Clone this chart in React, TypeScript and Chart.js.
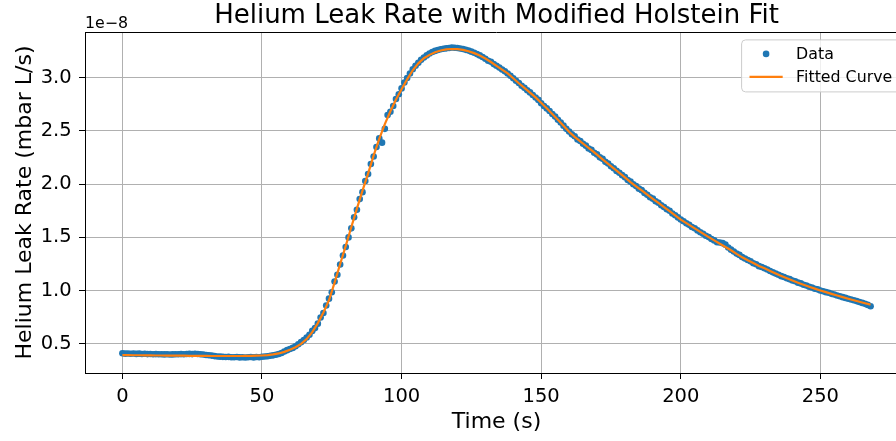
import React, { useEffect, useRef } from 'react';
import { Chart, registerables } from 'chart.js';

Chart.register(...registerables);

// ---- Text ----
const chartTitle = 'Helium Leak Rate with Modified Holstein Fit';
const xAxisLabel = 'Time (s)';
const yAxisLabel = 'Helium Leak Rate (mbar L/s)';
const yOffsetLabel = '1e\u22128';
const legendLabels = ['Data', 'Fitted Curve'];

// ---- Ticks ----
const xTickValues = [0, 50, 100, 150, 200, 250];
const xTickLabels = ['0', '50', '100', '150', '200', '250'];
const yTickValues = [0.5, 1.0, 1.5, 2.0, 2.5, 3.0];
const yTickLabels = ['0.5', '1.0', '1.5', '2.0', '2.5', '3.0'];

// ---- Measured data (leak rate in units of 1e-8 mbar L/s), sampled every 1 s from t = 0 ----
const dataStartTime = 0;
const dataInterval = 1;
const leakRateData = [
  0.412, 0.408, 0.410, 0.407, 0.409, 0.406, 0.408, 0.405, 0.407, 0.404,
  0.405, 0.403, 0.404, 0.402, 0.403, 0.401, 0.402, 0.400, 0.401, 0.402,
  0.403, 0.404, 0.402, 0.405, 0.406, 0.404, 0.407, 0.405, 0.403, 0.400,
  0.396, 0.393, 0.390, 0.385, 0.382, 0.380, 0.378, 0.376, 0.378, 0.375,
  0.374, 0.376, 0.373, 0.375, 0.372, 0.374, 0.376, 0.373, 0.377, 0.375,
  0.379, 0.381, 0.384, 0.388, 0.392, 0.398, 0.405, 0.414, 0.428, 0.441,
  0.452, 0.462, 0.478, 0.496, 0.516, 0.537, 0.560, 0.585, 0.622, 0.648,
  0.690, 0.748, 0.790, 0.860, 0.925, 0.985, 1.085, 1.150, 1.245, 1.330,
  1.410, 1.500, 1.585, 1.690, 1.760, 1.860, 1.925, 2.030, 2.095, 2.190,
  2.260, 2.350, 2.430, 2.390, 2.520, 2.650, 2.680, 2.735, 2.800, 2.845,
  2.900, 2.955, 2.998, 3.040, 3.080, 3.112, 3.140, 3.168, 3.190, 3.210,
  3.228, 3.242, 3.252, 3.261, 3.268, 3.272, 3.276, 3.279, 3.284, 3.281,
  3.280, 3.274, 3.270, 3.262, 3.255, 3.245, 3.235, 3.222, 3.210, 3.195,
  3.178, 3.160, 3.150, 3.128, 3.112, 3.095, 3.078, 3.060, 3.040, 3.018,
  2.995, 2.972, 2.950, 2.925, 2.905, 2.882, 2.862, 2.838, 2.815, 2.792,
  2.760, 2.735, 2.712, 2.688, 2.660, 2.635, 2.605, 2.580, 2.550, 2.520,
  2.495, 2.468, 2.450, 2.420, 2.405, 2.380, 2.362, 2.335, 2.322, 2.295,
  2.280, 2.252, 2.238, 2.210, 2.194, 2.168, 2.150, 2.125, 2.108, 2.085,
  2.066, 2.040, 2.024, 2.000, 1.982, 1.958, 1.944, 1.918, 1.900, 1.878,
  1.864, 1.840, 1.826, 1.802, 1.786, 1.765, 1.750, 1.724, 1.708, 1.688,
  1.668, 1.652, 1.632, 1.618, 1.598, 1.586, 1.566, 1.548, 1.535, 1.515,
  1.503, 1.485, 1.472, 1.455, 1.452, 1.446, 1.432, 1.405, 1.385, 1.368,
  1.348, 1.336, 1.315, 1.302, 1.288, 1.275, 1.258, 1.248, 1.230, 1.222,
  1.210, 1.198, 1.184, 1.172, 1.160, 1.150, 1.136, 1.128, 1.116, 1.108,
  1.095, 1.088, 1.075, 1.068, 1.055, 1.048, 1.036, 1.030, 1.018, 1.012,
  1.002, 0.995, 0.986, 0.980, 0.970, 0.964, 0.954, 0.948, 0.939, 0.932,
  0.924, 0.917, 0.910, 0.902, 0.894, 0.885, 0.876, 0.866, 0.853,
];

// ---- Fitted curve (same units), read every 2 s from t = 0 ----
const fitStartTime = 0;
const fitInterval = 2;
const leakRateFit = [
  0.394, 0.394, 0.393, 0.393, 0.392, 0.392, 0.391, 0.391, 0.390, 0.390,
  0.389, 0.389, 0.388, 0.388, 0.387, 0.387, 0.386, 0.386, 0.386, 0.386,
  0.386, 0.386, 0.387, 0.388, 0.389, 0.391, 0.395, 0.401, 0.410, 0.425,
  0.445, 0.468, 0.500, 0.545, 0.610, 0.695, 0.795, 0.910, 1.075, 1.250,
  1.420, 1.598, 1.770, 1.940, 2.100, 2.270, 2.425, 2.565, 2.685, 2.795,
  2.892, 2.985, 3.070, 3.135, 3.183, 3.215, 3.240, 3.256, 3.266, 3.270,
  3.268, 3.262, 3.249, 3.231, 3.208, 3.180, 3.148, 3.112, 3.077, 3.040,
  2.995, 2.948, 2.904, 2.860, 2.815, 2.765, 2.713, 2.660, 2.606, 2.550,
  2.492, 2.445, 2.403, 2.361, 2.319, 2.277, 2.234, 2.191, 2.148, 2.106,
  2.064, 2.020, 1.980, 1.941, 1.902, 1.863, 1.824, 1.785, 1.746, 1.706,
  1.667, 1.634, 1.601, 1.568, 1.535, 1.503, 1.472, 1.441, 1.410, 1.379,
  1.345, 1.313, 1.285, 1.259, 1.232, 1.210, 1.185, 1.161, 1.138, 1.116,
  1.095, 1.075, 1.056, 1.037, 1.019, 1.002, 0.986, 0.970, 0.954, 0.939,
  0.924, 0.910, 0.896, 0.882, 0.869,
];

// ---- Axis limits (matplotlib-style 5% margins) ----
const xMin = -13.4;
const xMax = 281.4;
const yMin = 0.2264;
const yMax = 3.4296;

const FONT = "'DejaVu Sans', 'Liberation Sans', sans-serif";
const BLUE = '#1f77b4';
const ORANGE = '#ff7f0e';

const CANVAS_W = 920;
const CANVAS_H = 441;
const PLOT_RIGHT = 908;
const PLOT_LEFT = 85;
const PLOT_BOTTOM = 373;

const extrasPlugin = {
  id: 'mplExtras',
  afterDraw(chart: any) {
    const { ctx, chartArea: a } = chart;
    ctx.save();
    // top spine
    ctx.strokeStyle = '#000';
    ctx.lineWidth = 1;
    ctx.beginPath();
    const ty = Math.round(a.top) + 0.5;
    ctx.moveTo(a.left, ty);
    ctx.lineTo(a.right, ty);
    ctx.stroke();

    // offset text
    ctx.fillStyle = '#000';
    ctx.font = `15.8px ${FONT}`;
    ctx.textAlign = 'left';
    ctx.textBaseline = 'alphabetic';
    ctx.fillText(yOffsetLabel, a.left, a.top - 3.7);

    // legend
    const fs = 15.8;
    ctx.font = `${fs}px ${FONT}`;
    const ds = chart.data.datasets;
    const labels = ds.map((d: any) => d.label as string);
    const textW = Math.max(...labels.map((l: string) => ctx.measureText(l).width));
    const pad = 0.5 * fs;
    const handleLen = 2.1 * fs;
    const handleGap = 0.85 * fs;
    const boxRight = a.right - 0.5 * fs;
    const boxW = pad + handleLen + handleGap + textW + pad;
    const boxLeft = boxRight - boxW;
    const boxTop = a.top + 0.5 * fs;
    const boxH = 52;
    const rowY = [boxTop + 14, boxTop + 37];

    ctx.beginPath();
    const r = 4;
    ctx.moveTo(boxLeft + r, boxTop);
    ctx.lineTo(boxRight - r, boxTop);
    ctx.arcTo(boxRight, boxTop, boxRight, boxTop + r, r);
    ctx.lineTo(boxRight, boxTop + boxH - r);
    ctx.arcTo(boxRight, boxTop + boxH, boxRight - r, boxTop + boxH, r);
    ctx.lineTo(boxLeft + r, boxTop + boxH);
    ctx.arcTo(boxLeft, boxTop + boxH, boxLeft, boxTop + boxH - r, r);
    ctx.lineTo(boxLeft, boxTop + r);
    ctx.arcTo(boxLeft, boxTop, boxLeft + r, boxTop, r);
    ctx.closePath();
    ctx.fillStyle = 'rgba(255,255,255,0.8)';
    ctx.fill();
    ctx.strokeStyle = '#cccccc';
    ctx.lineWidth = 1;
    ctx.stroke();

    const hx = boxLeft + pad;
    // Data marker
    ctx.fillStyle = ds[0].pointBackgroundColor;
    ctx.beginPath();
    ctx.arc(hx + handleLen / 2, rowY[0], 3.3, 0, Math.PI * 2);
    ctx.fill();
    // Fit line
    ctx.strokeStyle = ds[1].borderColor;
    ctx.lineWidth = 2.2;
    ctx.beginPath();
    ctx.moveTo(hx, rowY[1]);
    ctx.lineTo(hx + handleLen, rowY[1]);
    ctx.stroke();

    ctx.fillStyle = '#000';
    ctx.textBaseline = 'middle';
    labels.forEach((l: string, i: number) => {
      ctx.fillText(l, hx + handleLen + handleGap, rowY[i] + 1);
    });
    ctx.restore();
  },
};

export default function App() {
  const ref = useRef<HTMLCanvasElement>(null);

  useEffect(() => {
    const canvas = ref.current;
    if (!canvas) return;
    Chart.defaults.font.family = FONT;
    Chart.defaults.color = '#000';

    const dataPoints = leakRateData.map((v, i) => ({ x: dataStartTime + i * dataInterval, y: v }));
    const fitPoints = leakRateFit.map((v, i) => ({ x: fitStartTime + i * fitInterval, y: v }));

    const chart = new Chart(canvas, {
      type: 'scatter',
      data: {
        datasets: [
          {
            label: legendLabels[0],
            data: dataPoints,
            showLine: false,
            pointRadius: 3.3,
            pointHoverRadius: 3.3,
            pointBorderWidth: 0,
            pointBackgroundColor: BLUE,
            backgroundColor: BLUE,
            borderColor: BLUE,
            order: 1,
          },
          {
            label: legendLabels[1],
            data: fitPoints,
            showLine: true,
            pointRadius: 0,
            pointHoverRadius: 0,
            borderColor: ORANGE,
            backgroundColor: ORANGE,
            borderWidth: 2.2,
            fill: false,
            tension: 0,
            order: 0,
          },
        ],
      },
      options: {
        responsive: false,
        animation: false,
        devicePixelRatio: 1,
        events: [],
        layout: { padding: { left: 0, right: CANVAS_W - PLOT_RIGHT, top: 0, bottom: 0 } },
        plugins: {
          legend: { display: false },
          tooltip: { enabled: false },
          title: {
            display: true,
            fullSize: false,
            text: chartTitle,
            color: '#000',
            font: { family: FONT, size: 26, weight: 'normal', lineHeight: 1.2 },
            padding: { top: 0.8, bottom: 0 },
          },
        },
        scales: {
          x: {
            type: 'linear',
            min: xMin,
            max: xMax,
            afterFit: (s: any) => { s.height = CANVAS_H - PLOT_BOTTOM; },
            afterBuildTicks: (s: any) => { s.ticks = xTickValues.map((v) => ({ value: v })); },
            ticks: {
              autoSkip: false,
              maxRotation: 0,
              color: '#000',
              padding: 6.4,
              font: { family: FONT, size: 19.5 },
              callback: (_v: any, i: number) => xTickLabels[i],
            },
            grid: { color: '#b0b0b0', lineWidth: 1, tickColor: '#000', tickLength: 6, tickWidth: 1 },
            border: { color: '#000', width: 1 },
            title: {
              display: true,
              text: xAxisLabel,
              color: '#000',
              font: { family: FONT, size: 22, lineHeight: 1.2 },
              padding: { top: 0, bottom: 5.3 },
            },
          },
          y: {
            type: 'linear',
            min: yMin,
            max: yMax,
            afterFit: (s: any) => { s.width = PLOT_LEFT; },
            afterBuildTicks: (s: any) => { s.ticks = yTickValues.map((v) => ({ value: v })); },
            ticks: {
              autoSkip: false,
              color: '#000',
              padding: 7.3,
              font: { family: FONT, size: 19.5 },
              callback: (_v: any, i: number) => yTickLabels[i],
            },
            grid: { color: '#b0b0b0', lineWidth: 1, tickColor: '#000', tickLength: 6, tickWidth: 1 },
            border: { color: '#000', width: 1 },
            title: {
              display: true,
              text: yAxisLabel,
              color: '#000',
              font: { family: FONT, size: 22, lineHeight: 1.2 },
              padding: { top: 12, bottom: 0 },
            },
          },
        },
      },
      plugins: [extrasPlugin],
    } as any);

    return () => chart.destroy();
  }, []);

  return (
    <div
      style={{
        position: 'fixed',
        left: 0,
        top: 0,
        width: 896,
        height: 441,
        overflow: 'hidden',
        background: '#fff',
      }}
    >
      <canvas
        ref={ref}
        width={CANVAS_W}
        height={CANVAS_H}
        style={{ width: CANVAS_W, height: CANVAS_H, display: 'block' }}
      />
    </div>
  );
}
